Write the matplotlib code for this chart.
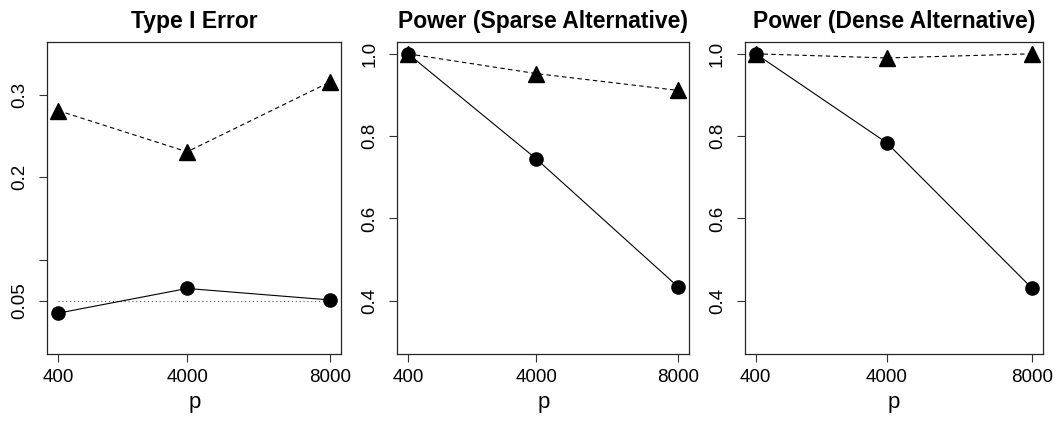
"""Three-panel simulation summary: type I error and power vs dimension p."""

import matplotlib

matplotlib.use("Agg")
import matplotlib.pyplot as plt

plt.rcParams["font.family"] = ["Liberation Sans", "DejaVu Sans"]

# ---------------------------------------------------------------------------
# Data
# ---------------------------------------------------------------------------

p_values = [400, 4000, 8000]
p_labels = ["400", "4000", "8000"]

titles = ["Type I Error", "Power (Sparse Alternative)", "Power (Dense Alternative)"]

# circles (solid line)
circle_series = [
    [0.035, 0.065, 0.051],
    [1.0, 0.745, 0.433],
    [1.0, 0.784, 0.430],
]
# triangles (dashed line)
triangle_series = [
    [0.281, 0.231, 0.316],
    [1.0, 0.952, 0.911],
    [1.0, 0.990, 1.0],
]

nominal_level = 0.05

y_limits = [(0.0, 0.35), (0.3, 1.0), (0.3, 1.0)]
y_ticks = [[0.05, 0.1, 0.2, 0.3], [0.4, 0.6, 0.8, 1.0], [0.4, 0.6, 0.8, 1.0]]
y_ticklabels = [["0.05", "", "0.2", "0.3"],
                ["0.4", "0.6", "0.8", "1.0"],
                ["0.4", "0.6", "0.8", "1.0"]]

# ---------------------------------------------------------------------------
# Layout (pixel boxes of each panel, R-style)
# ---------------------------------------------------------------------------

W, H = 1056, 421
_BOXES = [(47.3, 341.3), (397.3, 689.3), (744.7, 1043.3)]
_TOP, _BOTTOM = 42.3, 353.5


def _expand(lo, hi, frac=0.04):
    d = (hi - lo) * frac
    return lo - d, hi + d


fig = plt.figure(figsize=(W / 100, H / 100), dpi=100)

for i, (x0, x1) in enumerate(_BOXES):
    ax = fig.add_axes([x0 / W, 1 - _BOTTOM / H, (x1 - x0) / W, (_BOTTOM - _TOP) / H])

    if i == 0:
        ax.plot([p_values[0], p_values[-1]], [nominal_level, nominal_level],
                color="0.35", lw=0.8, linestyle=(0, (1, 2.5)))

    ax.plot(p_values, circle_series[i], color="black", lw=0.8,
            marker="o", markersize=9.5, markerfacecolor="black",
            markeredgecolor="black", clip_on=False)
    ax.plot(p_values, triangle_series[i], color="black", lw=0.8,
            linestyle=(0, (4, 3)), marker="^", markersize=11,
            markerfacecolor="black", markeredgecolor="black", clip_on=False)

    ax.set_xlim(*_expand(min(p_values), max(p_values)))
    ax.set_ylim(*_expand(*y_limits[i]))

    ax.set_xticks(p_values)
    ax.set_xticklabels(p_labels, fontsize=13.5)
    ax.set_yticks(y_ticks[i])
    ax.set_yticklabels(y_ticklabels[i], fontsize=13.5, rotation=90, va="center")

    ax.tick_params(direction="out", length=5.5, width=0.8, color="0.2")
    ax.tick_params(axis="x", pad=6)
    ax.tick_params(axis="y", pad=8)
    for s in ax.spines.values():
        s.set_linewidth(0.9)
        s.set_color("0.15")

    ax.set_xlabel("p", fontsize=16, labelpad=4)
    ax.set_title(titles[i], fontsize=16.5, fontweight="bold", pad=10.5)

fig.savefig("out.png", dpi=100)
